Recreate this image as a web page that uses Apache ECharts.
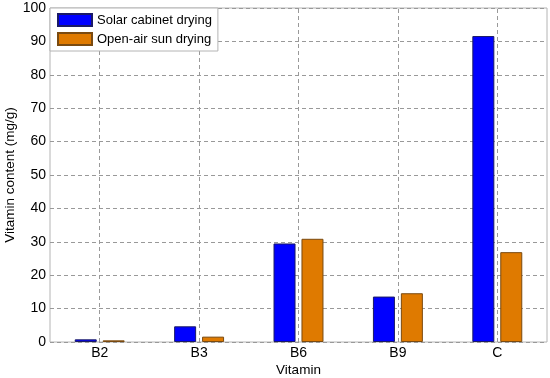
<!DOCTYPE html>
<html>
<head>
<meta charset="utf-8">
<script src="https://cdn.jsdelivr.net/npm/echarts@6/dist/echarts.min.js"></script>
<style>html,body{margin:0;padding:0;background:#fff}#c{width:550px;height:378px}</style>
</head>
<body>
<div id="c"></div>
<script>
const categories = ['B2', 'B3', 'B6', 'B9', 'C'];
const solarCabinet = [0.8, 4.7, 29.5, 13.6, 91.6];
const openAirSun = [0.5, 1.6, 30.9, 14.6, 26.9];
const yTicks = { min: 0, max: 100, interval: 10 };
const seriesNames = ['Solar cabinet drying', 'Open-air sun drying'];

const font = 'Liberation Sans, Arial, sans-serif';
const chart = echarts.init(document.getElementById('c'));
chart.setOption({
  animation: false,
  backgroundColor: '#fff',
  textStyle: { fontFamily: font },
  grid: { left: 50, right: 3, top: 8, bottom: 36, outerBoundsMode: 'none', containLabel: false, show: true, borderColor: '#b4b4b4', borderWidth: 1, backgroundColor: 'transparent' },
  legend: {
    left: 50, top: 8, orient: 'vertical',
    icon: 'rect',
    itemWidth: 34, itemHeight: 12, itemGap: 5,
    padding: [5, 6, 5, 7],
    backgroundColor: '#fff', borderColor: '#b4b4b4', borderWidth: 1,
    textStyle: { fontSize: 13, color: '#000', fontFamily: font },
    data: seriesNames,
    z: 10
  },
  xAxis: {
    type: 'category', data: categories,
    name: 'Vitamin', nameLocation: 'middle', nameGap: 21, nameMoveOverlap: false,
    nameTextStyle: { fontSize: 13.5, color: '#000', fontFamily: font },
    axisLine: { show: false }, axisTick: { show: false },
    axisLabel: { fontSize: 14, color: '#000', margin: 4, fontFamily: font },
    splitLine: { show: false }
  },
  yAxis: {
    type: 'value', min: yTicks.min, max: yTicks.max, interval: yTicks.interval,
    name: 'Vitamin content (mg/g)', nameLocation: 'middle', nameGap: 33, nameMoveOverlap: false,
    nameTextStyle: { fontSize: 13.5, color: '#000', fontFamily: font },
    axisLine: { show: false }, axisTick: { show: false },
    axisLabel: { fontSize: 14, color: '#000', margin: 4, fontFamily: font },
    splitLine: { show: true, lineStyle: { color: '#999', type: [4, 3], width: 1 } }
  },
  series: [
    {
      name: 'grid-x', type: 'line', data: [], silent: true,
      markLine: {
        silent: true, symbol: 'none', label: { show: false },
        lineStyle: { color: '#999', type: [4, 3], width: 1 },
        data: categories.map(c => ({ xAxis: c }))
      }
    },
    {
      name: seriesNames[0], type: 'bar', data: solarCabinet,
      barWidth: 22, barGap: '27%',
      itemStyle: { color: '#0000ff', borderColor: '#1a1a66', borderWidth: 1 }
    },
    {
      name: seriesNames[1], type: 'bar', data: openAirSun,
      barWidth: 22,
      itemStyle: { color: '#df7a00', borderColor: '#7a4a10', borderWidth: 1 }
    }
  ]
});
</script>
</body>
</html>
